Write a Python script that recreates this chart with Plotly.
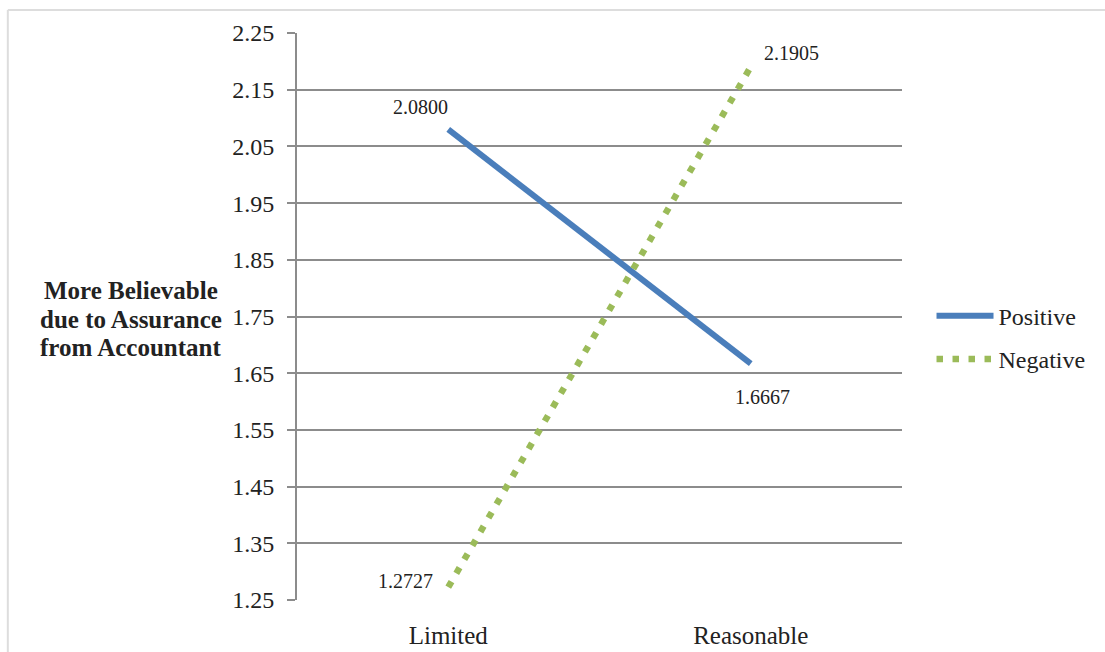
import plotly.graph_objects as go

categories = ["Limited", "Reasonable"]
positive = [2.0800, 1.6667]
negative = [1.2727, 2.1905]
y_ticks = [1.25, 1.35, 1.45, 1.55, 1.65, 1.75, 1.85, 1.95, 2.05, 2.15, 2.25]
y_title_lines = ["More Believable", "due to Assurance", "from Accountant"]

SERIF = "Liberation Serif, Times New Roman, serif"
TXT = "#222222"

fig = go.Figure()
fig.add_trace(go.Scatter(x=categories, y=positive, mode="lines", name="Positive",
                         legendgroup="p",
                         line=dict(color="#4A7EBB", width=6)))
fig.add_trace(go.Scatter(x=categories, y=negative, mode="lines", name="Negative",
                         legendgroup="n",
                         line=dict(color="#9BBB59", width=6.5, dash="6.5px,9.5px")))

# data labels
offsets = {
    ("p", 0): (-28, 22), ("p", 1): (12, -33),
    ("n", 0): (-43, 6), ("n", 1): (41, 14),
}
for key, vals in (("p", positive), ("n", negative)):
    for i, (c, v) in enumerate(zip(categories, vals)):
        dx, dy = offsets[(key, i)]
        fig.add_annotation(x=c, y=v, text=f"{v:.4f}", showarrow=False,
                           xshift=dx, yshift=dy,
                           font=dict(family=SERIF, size=20, color=TXT))

# y-axis title as three lines
for k, line in enumerate(y_title_lines):
    fig.add_annotation(xref="paper", yref="paper", x=-0.275, y=0.546 - k * 0.0505,
                       xanchor="center", yanchor="middle", showarrow=False,
                       text=f"<b>{line}</b>",
                       font=dict(family=SERIF, size=25, color=TXT))

# outer frame lines (top and left)
fig.add_shape(type="line", xref="paper", yref="paper",
              x0=-0.478, x1=1.34, y0=1.0406, y1=1.0406,
              line=dict(color="#DDDDDD", width=2))
fig.add_shape(type="line", xref="paper", yref="paper",
              x0=-0.478, x1=-0.478, y0=1.0406, y1=-0.1,
              line=dict(color="#DDDDDD", width=2))

fig.update_layout(
    width=1105, height=652,
    margin=dict(l=297, r=203, t=33, b=52, autoexpand=False),
    paper_bgcolor="white", plot_bgcolor="white",
    font=dict(family=SERIF, color=TXT),
    showlegend=True,
    legend=dict(xref="container", yref="container",
                x=0.843, y=0.482, xanchor="left", yanchor="middle",
                traceorder="grouped", tracegroupgap=9, itemwidth=57,
                font=dict(family=SERIF, size=24, color=TXT),
                bgcolor="rgba(0,0,0,0)"),
    xaxis=dict(type="category", range=[-0.5, 1.5], showgrid=False,
               showline=False, ticks="", zeroline=False, ticklabelstandoff=18,
               automargin=False,
               tickfont=dict(family=SERIF, size=25, color=TXT)),
    yaxis=dict(range=[1.25, 2.25], tickvals=y_ticks,
               ticktext=[f"{t:.2f}" for t in y_ticks],
               showgrid=True, gridcolor="#8C8C8C", gridwidth=2,
               showline=True, linecolor="#8C8C8C", linewidth=2,
               ticks="outside", ticklen=8, tickcolor="#8C8C8C", tickwidth=2,
               zeroline=False, ticklabelstandoff=8, automargin=False,
               tickfont=dict(family=SERIF, size=24, color=TXT)),
)

fig.write_html("out.html")
